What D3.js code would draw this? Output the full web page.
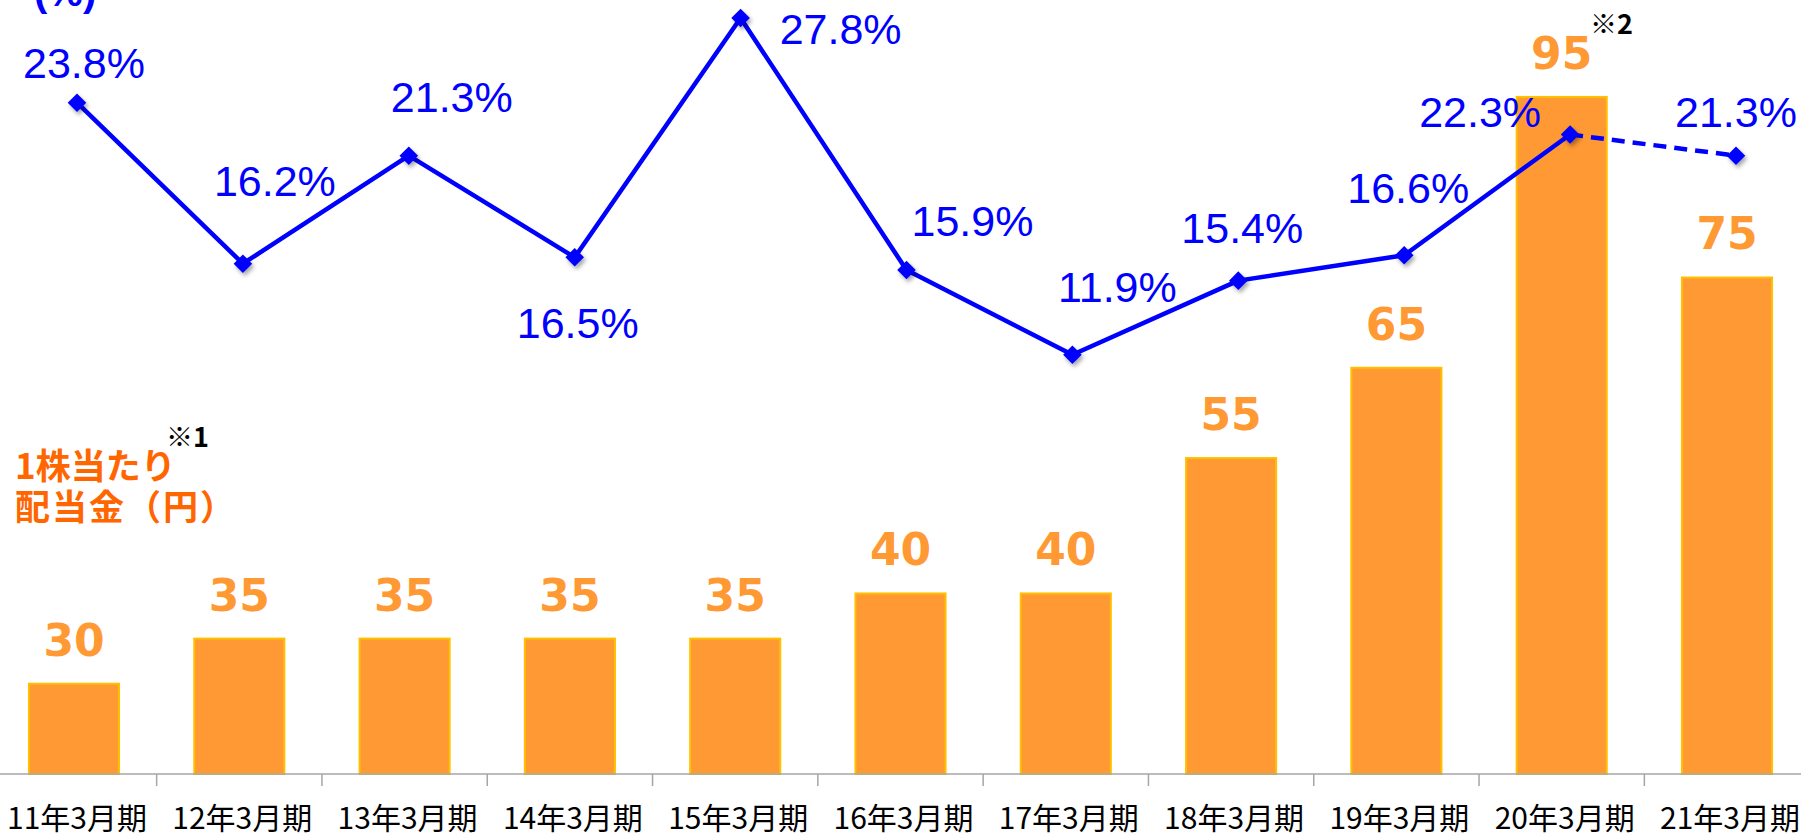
<!DOCTYPE html>
<html>
<head>
<meta charset="utf-8">
<script src="https://cdn.jsdelivr.net/npm/d3@7"></script>
<style>
  body { margin: 0; background: #fff; }
  svg { display: block; }
</style>
</head>
<body>
<svg id="chart"></svg>
<script>
// data
const categories = ["11年3月期", "12年3月期", "13年3月期", "14年3月期", "15年3月期", "16年3月期",
    "17年3月期", "18年3月期", "19年3月期", "20年3月期", "21年3月期"];
const dividends = [30, 35, 35, 35, 35, 40, 40, 55, 65, 95, 75];
const payoutRatios = [23.8, 16.2, 21.3, 16.5, 27.8, 15.9, 11.9, 15.4, 16.6, 22.3, 21.3];
const forecastFrom = 9; // segment 20年 -> 21年 is dashed

// where each % label sits relative to its point
const labelOffsets = [[7, -40], [32, -83], [43, -59], [3, 65], [100, 11], [66, -50],
    [45, -68], [4, -53], [4, -68], [-90, -23], [0, -44]];

const width = 1801, height = 836;
const svg = d3.select("#chart").attr("width", width).attr("height", height);

const defs = svg.append("defs");
defs.append("filter").attr("id", "shadow")
    .attr("x", "-50%").attr("y", "-50%").attr("width", "200%").attr("height", "200%")
    .append("feDropShadow")
    .attr("dx", 2).attr("dy", 3).attr("stdDeviation", 2)
    .attr("flood-color", "#000").attr("flood-opacity", 0.35);

const x = d3.scaleBand()
    .domain(categories)
    .range([-8.65, 1809.65])
    .paddingInner(0.455)
    .paddingOuter(0.2275);

const xLine = d3.scalePoint()
    .domain(categories)
    .range([77, 1736]);

const yBar = d3.scaleLinear().domain([20, 100]).range([774, 51.8]);
const yPct = d3.scaleLinear().domain([0, 30]).range([606.8, -28.6]);

// bars
svg.selectAll(".bar")
    .data(dividends)
    .enter().append("rect")
    .attr("class", "bar")
    .attr("x", (d, i) => x(categories[i]))
    .attr("width", x.bandwidth())
    .attr("y", d => yBar(d))
    .attr("height", d => yBar(20) - yBar(d))
    .attr("fill", "#FF9933")
    .attr("stroke", "#FFC000")
    .attr("stroke-width", 2);

svg.selectAll(".bar-label")
    .data(dividends)
    .enter().append("text")
    .attr("class", "bar-label")
    .attr("x", (d, i) => x(categories[i]) + x.bandwidth() / 2)
    .attr("y", d => yBar(d) - 28)
    .attr("text-anchor", "middle")
    .style("font-family", "'DejaVu Sans', sans-serif")
    .style("font-weight", "bold")
    .style("font-size", "44px")
    .attr("fill", "#FF9933")
    .text(d => d);

// x axis
const xAxis = d3.axisBottom(x).tickSize(0).tickPadding(0).tickFormat("");
const axisG = svg.append("g")
    .attr("transform", `translate(0,${yBar(20)})`)
    .call(xAxis);
axisG.select(".domain").remove();
axisG.append("line")
    .attr("x1", 0).attr("x2", width)
    .attr("stroke", "#A6A6A6").attr("stroke-width", 1.5);

const step = x.step();
axisG.selectAll(".tick-mark")
    .data(categories.slice(1))
    .enter().append("line")
    .attr("x1", d => x(d) - (step - x.bandwidth()) / 2)
    .attr("x2", d => x(d) - (step - x.bandwidth()) / 2)
    .attr("y1", 0).attr("y2", 12)
    .attr("stroke", "#A6A6A6").attr("stroke-width", 1.5);

svg.selectAll(".cat-label")
    .data(categories)
    .enter().append("text")
    .attr("class", "cat-label")
    .attr("x", d => x(d) + x.bandwidth() / 2 + 3)
    .attr("y", 829)
    .attr("text-anchor", "middle")
    .style("font-family", "'Noto Sans CJK JP', sans-serif")
    .style("font-size", "30px")
    .attr("fill", "#000")
    .text(d => d);

// payout ratio line
const pts = payoutRatios.map((v, i) => [xLine(categories[i]), yPct(v)]);
const line = d3.line();

svg.append("path")
    .attr("d", line(pts.slice(0, forecastFrom + 1)))
    .attr("fill", "none")
    .attr("stroke", "#0000FF")
    .attr("stroke-width", 4.5)
    .attr("stroke-linejoin", "round");

svg.append("path")
    .attr("d", line(pts.slice(forecastFrom)))
    .attr("fill", "none")
    .attr("stroke", "#0000FF")
    .attr("stroke-width", 4.5)
    .attr("stroke-dasharray", "13,8");

svg.selectAll(".marker")
    .data(pts)
    .enter().append("path")
    .attr("class", "marker")
    .attr("transform", d => `translate(${d[0]},${d[1]})`)
    .attr("d", d3.symbol().type(d3.symbolDiamond2).size(220))
    .attr("fill", "#0000FF")
    .attr("filter", "url(#shadow)");

svg.selectAll(".pct-label")
    .data(payoutRatios)
    .enter().append("text")
    .attr("class", "pct-label")
    .attr("x", (d, i) => pts[i][0] + labelOffsets[i][0])
    .attr("y", (d, i) => pts[i][1] + labelOffsets[i][1])
    .attr("dy", "0.36em")
    .attr("text-anchor", "middle")
    .style("font-family", "'Liberation Sans', Arial, sans-serif")
    .style("font-size", "43px")
    .attr("fill", "#0000FF")
    .text(d => d.toFixed(1) + "%");

// titles and notes
svg.append("text")
    .attr("x", 34).attr("y", 6)
    .style("font-family", "'Liberation Sans', Arial, sans-serif")
    .style("font-weight", "bold")
    .style("font-size", "40px")
    .attr("fill", "#0000FF")
    .text("(%)");

const legend = svg.append("text")
    .style("font-family", "'Noto Sans CJK JP', sans-serif")
    .style("font-weight", "bold")
    .style("font-size", "35px")
    .attr("fill", "#FF6600");
legend.append("tspan").attr("x", 15).attr("y", 479).text("1株当たり");
legend.append("tspan").attr("x", 15).attr("y", 520).attr("letter-spacing", "2px").text("配当金（円）");

svg.append("text")
    .attr("x", 166).attr("y", 447)
    .style("font-family", "'Noto Sans CJK JP', sans-serif")
    .style("font-weight", "bold")
    .style("font-size", "27px")
    .attr("fill", "#000")
    .text("※1");

svg.append("text")
    .attr("x", 1590).attr("y", 34)
    .style("font-family", "'Noto Sans CJK JP', sans-serif")
    .style("font-weight", "bold")
    .style("font-size", "27px")
    .attr("fill", "#000")
    .text("※2");
</script>
</body>
</html>
